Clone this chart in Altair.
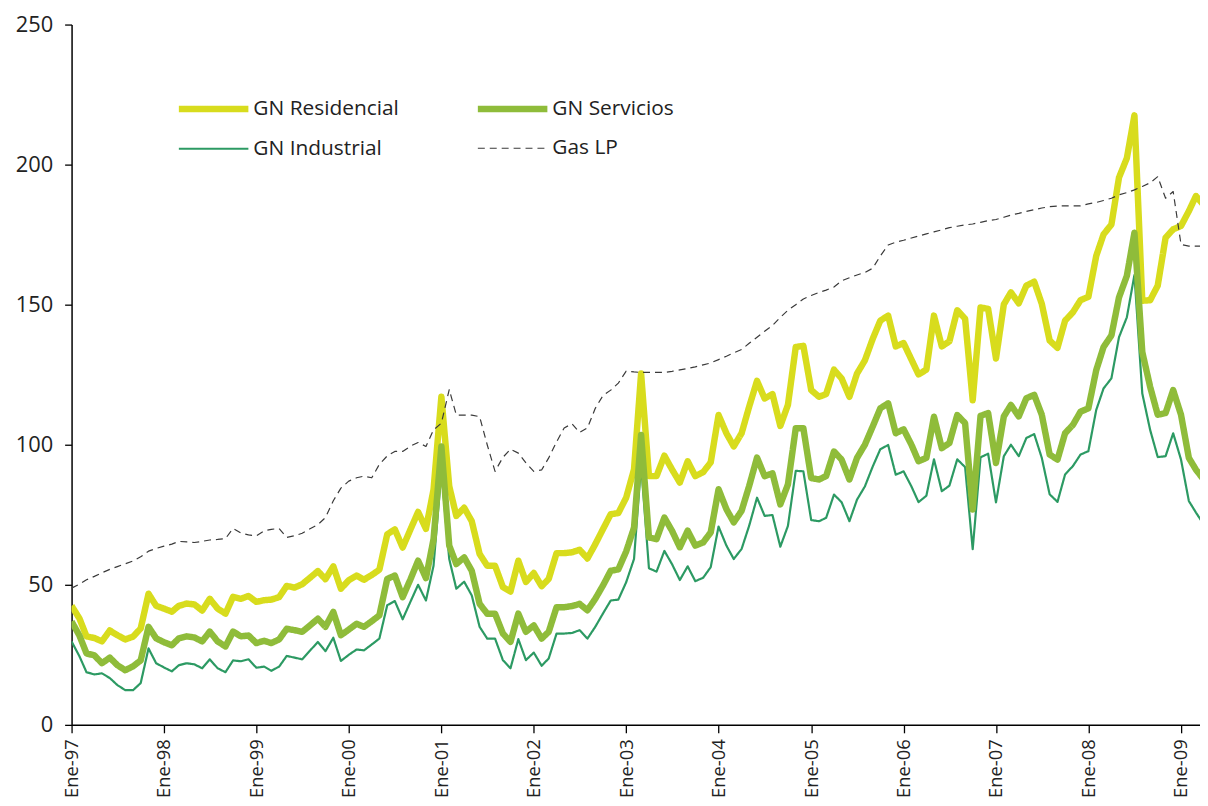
import altair as alt
import pandas as pd

# legend lays entries column by column: this order gives rows
# "GN Residencial | GN Servicios" and "GN Industrial | Gas LP"
series_names = ["GN Residencial", "GN Industrial", "GN Servicios", "Gas LP"]
series_colors = ["#d8dc1d", "#2c9a63", "#8fbc3a", "#3a3a3a"]
series_widths = [6.5, 2.2, 6.5, 1.2]
series_dashes = [[1, 0], [1, 0], [1, 0], [7, 5]]

start_year = 1997
start_month = 1

residencial = [
    42.5, 38, 31.6, 31, 29.8, 33.7, 32, 30.5, 31.5, 34.4, 46.8, 42.5,
    41.5, 40.4, 42.5, 43.3, 43, 40.8, 45, 41.5, 39.7, 45.7, 45, 46,
    43.9, 44.5, 44.7, 45.6, 49.6, 49, 50.2, 52.5, 54.9, 52, 56.6, 48.6,
    51.6, 53.3, 51.8, 53.5, 55.4, 68, 69.8, 63.3, 69.8, 76, 70, 84,
    117.1, 85.2, 74.6, 77.5, 72.7, 61, 56.8, 56.8, 49.2, 47.6, 58.6, 51,
    54.2, 49.5, 52.1, 61.3, 61.3, 61.6, 62.5, 59.4, 64.5, 69.8, 75.2, 75.6,
    81.1, 91.2, 125.4, 88.8, 88.8, 96.1, 91.2, 86.5, 94.1, 88.8, 90.2, 93.7,
    110.6, 104.1, 99.4, 104.1, 113.6, 122.8, 116.5, 118.1, 106.7, 114.2, 134.9, 135.3,
    119.5, 117.1, 118.1, 126.8, 123.7, 117.1, 125.4, 130.1, 137.8, 144.3, 146.1, 135.1,
    136.3, 130.4, 125.1, 126.8, 146.1, 135.1, 136.9, 148, 145, 115.9, 149, 148.5,
    130.8, 150.1, 154.4, 150.5, 156.8, 158.2, 150.3, 137.2, 134.6, 144.3, 147.3, 151.6,
    152.8, 167.4, 175.1, 178.6, 195.4, 202.3, 217.6, 151.4, 151.6, 156.8, 173.9, 176.9,
    178.1, 183.4, 188.8, 185.5,
]

servicios = [
    36.9, 31.9, 25.5, 24.8, 22, 24, 21.3, 19.5, 20.9, 23, 35, 30.9,
    29.5, 28.4, 30.9, 31.6, 31.2, 29.8, 33.3, 29.8, 28, 33.3, 31.6, 31.9,
    29.2, 30, 29.2, 30.5, 34.3, 33.8, 33.2, 35.5, 37.9, 35, 40.3, 32,
    34, 36.1, 35, 37, 39.1, 52.1, 53.3, 45.6, 52, 58.6, 52.4, 66.3,
    99.4, 64, 57.4, 59.8, 55, 43.2, 39.7, 39.7, 32.6, 29.6, 39.7, 33.2,
    35.5, 30.8, 33.2, 42, 42, 42.4, 43.2, 40.9, 45, 49.7, 55, 55.5,
    61.9, 70.4, 103.5, 66.9, 66.3, 74, 69.3, 63.4, 69.3, 64, 65.1, 68.7,
    84.1, 77, 72.3, 76.4, 85.3, 95.4, 88.8, 89.8, 78.7, 85.8, 105.9, 105.9,
    88.1, 87.6, 88.8, 97.6, 94.7, 87.6, 95.3, 100, 106.5, 113, 114.8, 104.1,
    105.5, 100, 94.1, 95.3, 110, 98.8, 100.6, 110.6, 107.7, 76.9, 110.3, 111.3,
    93.5, 110.1, 114.2, 110.1, 116.6, 117.8, 110.7, 96.5, 94.7, 104.1, 107.1, 111.8,
    113, 126.6, 134.9, 139, 152.6, 160.3, 175.7, 133.1, 120.7, 110.7, 111.3, 119.5,
    110.7, 95.3, 91.1, 87.5,
]

industrial = [
    29.8, 24.5, 18.8, 18, 18.4, 16.7, 14.2, 12.4, 12.4, 14.9, 27.3, 22,
    20.5, 19.1, 21.3, 22, 21.6, 20.2, 23.4, 20.2, 18.8, 23, 22.7, 23.4,
    20.4, 20.8, 19.3, 20.8, 24.6, 24, 23.4, 26.5, 29.6, 26.3, 31.1, 22.8,
    25, 26.9, 26.6, 28.7, 30.8, 42.7, 44.2, 37.7, 44, 50, 44.4, 56.8,
    90.5, 59.2, 48.6, 51.1, 46.2, 35, 30.8, 30.8, 23.1, 20.2, 30.6, 23.1,
    25.8, 21.1, 23.7, 32.6, 32.6, 32.8, 33.8, 30.8, 35, 39.7, 44.4, 44.7,
    50.9, 59.2, 92.9, 55.9, 54.7, 62.1, 57.4, 51.7, 56.6, 51.3, 52.5, 56.3,
    70.8, 64, 59.2, 62.8, 71.1, 81.1, 74.6, 74.9, 63.6, 71, 90.7, 90.5,
    73.1, 72.7, 73.9, 82.2, 79.5, 72.7, 80.4, 85.1, 92.2, 98.4, 99.9, 89.3,
    90.5, 85.1, 79.5, 81.8, 94.8, 83.4, 85.4, 94.8, 92, 62.7, 95.5, 96.8,
    79.4, 95.9, 100, 95.9, 102.4, 103.8, 95.3, 82.3, 79.6, 89.4, 92.4, 96.5,
    97.7, 112.4, 120.1, 123.7, 138.4, 145.5, 160.6, 118.3, 105.3, 95.6, 95.9, 104.1,
    94.7, 79.9, 75.8, 71.5,
]

gas_lp = [
    48.8, 50.2, 51.8, 53, 54.3, 55.5, 56.5, 57.5, 58.5, 60, 62, 63,
    63.8, 64.5, 65.5, 65.3, 65.1, 65.5, 66, 66.2, 66.5, 70.1, 68.5, 67.8,
    67.5, 69.3, 69.8, 70.1, 66.9, 67.5, 68.4, 70, 71.5, 74, 80, 84.5,
    87, 88.2, 88.8, 88.2, 93, 96, 97.6, 97.6, 99.5, 100.8, 99.4, 105.3,
    107.7, 119.7, 110.6, 110.6, 110.6, 110, 100, 90.5, 95.5, 98.4, 97, 93.5,
    90.5, 91, 95.3, 101, 106, 107.5, 104.4, 106, 113, 117.5, 119.5, 122,
    126.3, 126, 125.8, 125.8, 125.8, 125.8, 126.2, 126.7, 127.2, 127.8, 128.5, 129.2,
    130.4, 131.6, 132.8, 134, 136.2, 138.4, 140.5, 142.6, 145.5, 148, 150, 152,
    153.3, 154.4, 155.2, 156.3, 158.5, 159.6, 160.6, 161.5, 163, 167.4, 171.3, 172.3,
    173, 173.8, 174.5, 175.3, 176, 176.7, 177.5, 178, 178.5, 178.8, 179.4, 180,
    180.4, 181.2, 182, 182.6, 183.3, 183.9, 184.5, 185, 185.2, 185.3, 185.3, 185.3,
    186, 186.5, 187.2, 188, 189.2, 190, 191, 192.2, 193.5, 195.7, 188, 190.4,
    171.5, 170.9, 170.9, 170.9,
]

tick_years = list(range(1997, 2010))

# monthly dates
n = len(residencial)
fechas = []
for i in range(n):
    m = start_month - 1 + i
    fechas.append(f"{start_year + m // 12}-{m % 12 + 1:02d}-01")

values_by_name = {
    "GN Residencial": residencial,
    "GN Servicios": servicios,
    "GN Industrial": industrial,
    "Gas LP": gas_lp,
}
rows = []
for name in series_names:
    for f, v in zip(fechas, values_by_name[name]):
        rows.append({"fecha": f, "valor": v, "serie": name})
df = pd.DataFrame(rows)

FONT = "Open Sans"

# long horizontal legend line: a path twice the nominal symbol width
legend = alt.Legend(
    title=None,
    orient="none",
    legendX=122,
    legendY=64,
    columns=2,
    columnPadding=66,
    rowPadding=8,
    symbolType="M-2,0L2,0",
    symbolSize=1225,
    labelFont=FONT,
    labelFontSize=21,
    labelColor="#222222",
    labelOffset=19,
    labelLimit=300,
    padding=0,
)

chart = alt.Chart(df).mark_line(clip=True, strokeJoin="round").encode(
    x=alt.X(
        "fecha:T",
        scale=alt.Scale(
            type="utc",
            domain=[
                alt.DateTime(year=1997, month=1, date=1, utc=True),
                alt.DateTime(year=2009, month=3, date=17, utc=True),
            ],
        ),
        axis=alt.Axis(
            title=None,
            values=[alt.DateTime(year=y, month=1, date=1, utc=True) for y in tick_years],
            labelExpr="'Ene-' + utcFormat(datum.value, '%y')",
            labelAngle=270,
            labelAlign="right",
            labelBaseline="middle",
            labelFont=FONT,
            labelFontSize=18.5,
            labelColor="#222222",
            labelPadding=6,
            tickSize=8,
            tickColor="#000000",
            tickWidth=1.3,
            domainColor="#000000",
            domainWidth=1.5,
            grid=False,
            labelOverlap=False,
        ),
    ),
    y=alt.Y(
        "valor:Q",
        scale=alt.Scale(domain=[0, 250], nice=False),
        axis=alt.Axis(
            title=None,
            values=[0, 50, 100, 150, 200, 250],
            labelFont=FONT,
            labelFontSize=22,
            labelColor="#222222",
            labelPadding=12,
            tickSize=7,
            tickColor="#000000",
            tickWidth=1.3,
            domainColor="#000000",
            domainWidth=1.5,
            grid=False,
        ),
    ),
    color=alt.Color(
        "serie:N",
        scale=alt.Scale(domain=series_names, range=series_colors),
        legend=legend,
        sort=series_names,
    ),
    strokeWidth=alt.StrokeWidth(
        "serie:N",
        scale=alt.Scale(type="ordinal", domain=series_names, range=series_widths),
        legend=legend,
        sort=series_names,
    ),
    strokeDash=alt.StrokeDash(
        "serie:N",
        scale=alt.Scale(domain=series_names, range=series_dashes),
        legend=legend,
        sort=series_names,
    ),
).properties(
    width=1136,
    height=705,
    autosize=alt.AutoSizeParams(type="none"),
    padding={"left": 64, "top": 14, "right": 0, "bottom": 76},
).configure_view(
    stroke=None
)

chart.save("out.html", embed_options={"renderer": "svg", "actions": False})
